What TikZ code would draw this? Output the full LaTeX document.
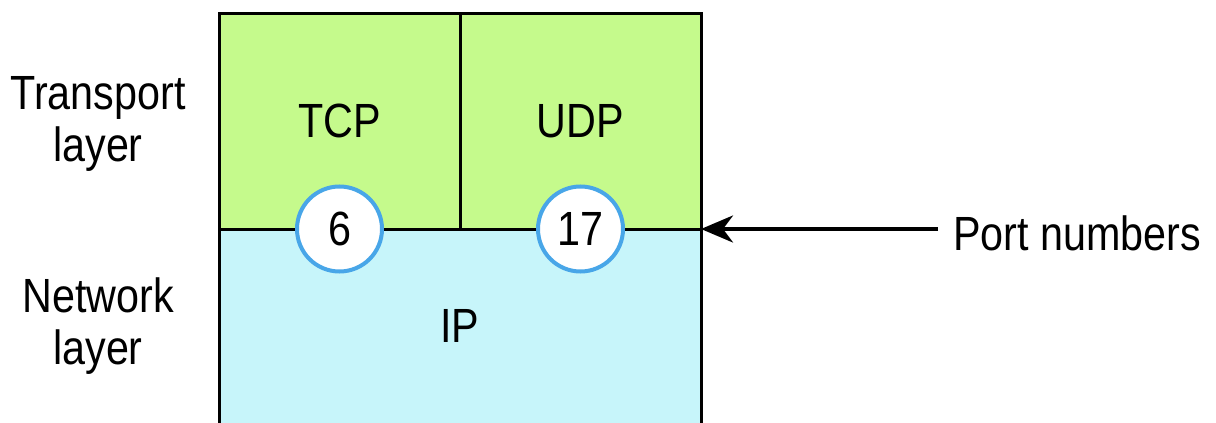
\documentclass[tikz,border=0pt]{standalone}
\usepackage{fontspec}
\setmainfont{Liberation Sans}[FakeStretch=0.86]
\usepackage{tikz}
\usetikzlibrary{arrows.meta, positioning}

\definecolor{transportgreen}{RGB}{197,250,140}
\definecolor{networkblue}{RGB}{199,245,250}
\definecolor{portring}{RGB}{72,166,232}

\begin{document}
\begin{tikzpicture}[
    x=0.5pt, y=-0.5pt,
    every node/.style={font=\fontsize{24}{26}\selectfont},
    layerbox/.style={rectangle, inner sep=0pt, outer sep=0pt, minimum width=120.5pt, minimum height=108pt},
    transport/.style={layerbox, draw, line width=1.5pt, fill=transportgreen},
    network/.style={rectangle, inner sep=0pt, outer sep=0pt, fill=networkblue, minimum width=241pt, minimum height=97pt},
    port/.style={circle, draw=portring, line width=2pt, fill=white, minimum size=42.5pt, inner sep=0pt},
    sidelabel/.style={align=center, inner sep=0pt},
    pointer/.style={-{Stealth[length=16pt, width=13.5pt, inset=5pt]}, line width=2pt}
]
\useasboundingbox (0,0) rectangle (1216,423);

% IP layer (open at the bottom)
\node[network, anchor=north west] (ip) at (219,229) {IP};

% Transport layer protocols
\node[transport] (tcp) at (339.5,121) {TCP};
\node[transport, right=0pt of tcp] (udp) {UDP};

% frame of the network layer
\draw[line width=1.5pt] (ip.south west) -- (tcp.south west);
\draw[line width=1.5pt] (ip.south east) -- (udp.south east);

% Port numbers on the boundary
\node[port] (six) at (tcp.south) {6};
\node[port] (seventeen) at (udp.south) {17};

% Layer names
\node[sidelabel] (translabel) at (98,123.5) {Transport\\layer};
\node[sidelabel] (netlabel) at (98,326.5) {Network\\layer};

% Pointer
\node[anchor=west, inner xsep=7.5pt, inner ysep=0pt] (portlabel) at (938,233) {Port numbers};
\draw[pointer] (portlabel.west |- udp.south east) -- (udp.south east);

\end{tikzpicture}
\end{document}
